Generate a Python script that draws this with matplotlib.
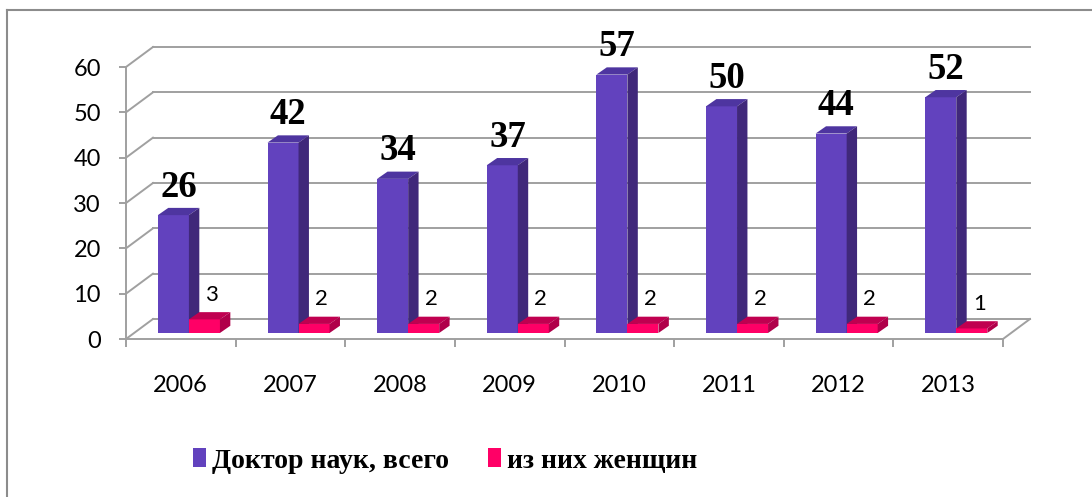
import matplotlib as mpl
import matplotlib.pyplot as plt
from matplotlib.patches import Polygon, Rectangle, Patch
from matplotlib.lines import Line2D

years = ['2006', '2007', '2008', '2009', '2010', '2011', '2012', '2013']
doctors = [26, 42, 34, 37, 57, 50, 44, 52]
women = [3, 2, 2, 2, 2, 2, 2, 1]
series_names = ['Доктор наук, всего', 'из них женщин']
yticks = [0, 10, 20, 30, 40, 50, 60]

mpl.rcParams['font.family'] = ['Lato', 'DejaVu Sans']

# colours: front, top, side
purple = ('#6242be', '#4e35a0', '#40287a')
pink = ('#ff0066', '#c00050', '#b0004a')
grid_col = '#a0a0a0'

# pseudo 3D geometry in data units
DX, DY = 0.246, 4.41          # floor depth offset
bdx, bdy = 0.095, 1.6         # bar depth
base = 0.3 * DY               # bar front face sits a bit behind the front
shift = 0.3 * DX
gap = 0.217
bw = (1 - 2 * gap) / 2


def box(ax, x0, h, cols):
    y0 = base
    ax.add_patch(Rectangle((x0, y0), bw, h, facecolor=cols[0], edgecolor='none', zorder=3))
    ax.add_patch(Polygon([(x0, y0 + h), (x0 + bdx, y0 + h + bdy), (x0 + bw + bdx, y0 + h + bdy),
                          (x0 + bw, y0 + h)], closed=True, facecolor=cols[1], edgecolor='none', zorder=3))
    ax.add_patch(Polygon([(x0 + bw, y0), (x0 + bw + bdx, y0 + bdy), (x0 + bw + bdx, y0 + h + bdy),
                          (x0 + bw, y0 + h)], closed=True, facecolor=cols[2], edgecolor='none', zorder=3))


fig = plt.figure(figsize=(10.92, 4.97), dpi=100)
ax = fig.add_axes([126 / 1092, 1 - 339 / 497, 877 / 1092, 272 / 497])
ax.set_xlim(0, len(years))
ax.set_ylim(0, 60)
ax.patch.set_visible(False)
for s in ['top', 'right', 'bottom']:
    ax.spines[s].set_visible(False)
ax.spines['left'].set_color(grid_col)
ax.spines['left'].set_linewidth(1.4)

# back wall grid + left wall diagonals
n = len(years)
for v in yticks:
    ax.plot([DX, n + DX], [v + DY, v + DY], color=grid_col, lw=1.4, zorder=1, clip_on=False)
    ax.plot([0, DX], [v, v + DY], color=grid_col, lw=1.4, zorder=1, clip_on=False)
# floor
ax.plot([0, n], [0, 0], color=grid_col, lw=1.4, zorder=1, clip_on=False)
ax.plot([n, n + DX], [0, DY], color=grid_col, lw=1.4, zorder=1, clip_on=False)

ax.set_yticks(yticks)
ax.tick_params(axis='y', length=5, width=1.4, color=grid_col, pad=13, labelsize=17)
ax.set_xticks(range(n + 1))
ax.set_xticklabels([])
ax.tick_params(axis='x', which='major', length=6, width=1.4, color=grid_col)
ax.set_xticks([i + 0.5 for i in range(n)], minor=True)
ax.set_xticklabels(years, minor=True)
ax.tick_params(axis='x', which='minor', length=0, pad=26, labelsize=17)

for i in range(n):
    x0 = i + shift + gap
    box(ax, x0, doctors[i], purple)
    box(ax, x0 + bw, women[i], pink)
    ax.text(x0 + bw / 2 + bdx / 2, base + doctors[i] + bdy + 2.5, str(doctors[i]),
            ha='center', va='baseline', fontsize=26.5, fontweight='bold',
            family='Liberation Serif', zorder=5, clip_on=False)
    ax.text(x0 + bw * 1.5 + bdx / 2 + 0.02, base + women[i] + bdy + 2.5, str(women[i]),
            ha='center', va='baseline', fontsize=16, zorder=5)

# chart frame (left and top edges visible)
fig.add_artist(Line2D([7 / 1092, 7 / 1092], [0, 1 - 10 / 497], transform=fig.transFigure,
                      color='#8c8c8c', lw=1.5))
fig.add_artist(Line2D([7 / 1092, 1], [1 - 10 / 497, 1 - 10 / 497], transform=fig.transFigure,
                      color='#8c8c8c', lw=1.5))

handles = [Patch(facecolor=purple[0]), Patch(facecolor=pink[0])]
fig.legend(handles, series_names, loc='center', bbox_to_anchor=(445 / 1092, 1 - 461 / 497),
           ncol=2, frameon=False, prop={'family': 'Liberation Serif', 'weight': 'bold', 'size': 20},
           handlelength=0.47, handleheight=0.66, handletextpad=0.22, columnspacing=1.4)

fig.savefig('out.png', dpi=100)
